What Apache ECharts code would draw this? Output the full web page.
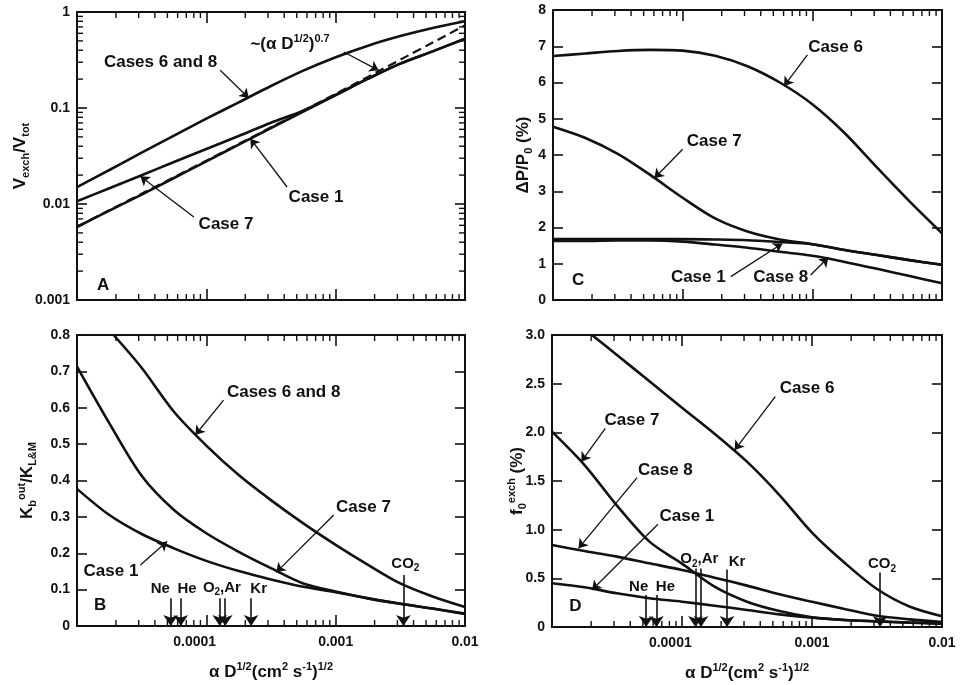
<!DOCTYPE html>
<html><head><meta charset="utf-8">
<script src="https://cdn.jsdelivr.net/npm/echarts@6/dist/echarts.min.js"></script>
<style>html,body{margin:0;padding:0;background:#fff;}#c{width:963px;height:685px;}</style>
</head><body><div id="c"></div>
<script>
// ---------------- DATA ----------------
const X_MIN = 1e-5, X_MAX = 1e-2;
const xs = [1e-5, 1.78e-5, 3.16e-5, 5.62e-5, 1e-4, 1.78e-4, 3.16e-4, 5.62e-4, 1e-3, 1.78e-3, 3.16e-3, 5.62e-3, 1e-2];
const xLabelVals = [1e-4, 1e-3, 1e-2];
const xLabelText = ['{l|0.0001}{gap|000}', '{l|0.001}', '{l|0.01}'];
const xMinorTicks = [2e-5,3e-5,4e-5,5e-5,6e-5,7e-5,8e-5,9e-5,2e-4,3e-4,4e-4,5e-4,6e-4,7e-4,8e-4,9e-4,2e-3,3e-3,4e-3,5e-3,6e-3,7e-3,8e-3,9e-3];

// Panel A: Vexch/Vtot (log)
const aTickVals = [0.001, 0.01, 0.1, 1];
const aTickText = ['0.001', '0.01', '0.1', '1'];
const aMinorTicks = [0.002,0.003,0.004,0.005,0.006,0.007,0.008,0.009,0.02,0.03,0.04,0.05,0.06,0.07,0.08,0.09,0.2,0.3,0.4,0.5,0.6,0.7,0.8,0.9];
const aCases68 = [0.0150, 0.0226, 0.0343, 0.0515, 0.0774, 0.1146, 0.1695, 0.245, 0.338, 0.446, 0.561, 0.682, 0.800];
const aCase7   = [0.0107, 0.0146, 0.0199, 0.0274, 0.0374, 0.0511, 0.0703, 0.0938, 0.1366, 0.202, 0.290, 0.389, 0.527];
const aCase1   = [0.00576, 0.00853, 0.0125, 0.01866, 0.0278, 0.0415, 0.0619, 0.0920, 0.1366, 0.202, 0.290, 0.389, 0.527];
const aPowerX  = [1e-5, 1e-4, 1e-3, 1e-2];
const aPower   = [0.0058, 0.0283, 0.1405, 0.726];

// Panel B: Kb_out/K_L&M
const bTickText = ['0', '0.1', '0.2', '0.3', '0.4', '0.5', '0.6', '0.7', '0.8'];
const bCases68Start = [1.92e-5, 0.80];
const bCases68 = [null, null, 0.710, 0.589, 0.496, 0.415, 0.346, 0.282, 0.223, 0.168, 0.117, 0.081, 0.052];
const bCase7   = [0.713, 0.557, 0.413, 0.319, 0.255, 0.204, 0.159, 0.117, 0.095, 0.076, 0.061, 0.048, 0.034];
const bCase1   = [0.377, 0.305, 0.253, 0.2135, 0.179, 0.151, 0.128, 0.108, 0.093, 0.076, 0.061, 0.048, 0.033];

// Panel C: dP/P0 (%)
const cTickText = ['0', '1', '2', '3', '4', '5', '6', '7', '8'];
const cCase6 = [6.73, 6.80, 6.87, 6.90, 6.88, 6.74, 6.45, 6.00, 5.40, 4.60, 3.65, 2.72, 1.84];
const cCase7 = [4.78, 4.47, 4.03, 3.45, 2.82, 2.25, 1.89, 1.67, 1.54, 1.38, 1.24, 1.10, 0.97];
const cCase1 = [1.68, 1.68, 1.68, 1.68, 1.68, 1.67, 1.65, 1.60, 1.54, 1.38, 1.24, 1.10, 0.97];
const cCase8 = [1.63, 1.63, 1.64, 1.64, 1.61, 1.53, 1.44, 1.33, 1.22, 1.05, 0.86, 0.66, 0.46];

// Panel D: f0_exch (%)
const dTickText = ['0', '0.5', '1.0', '1.5', '2.0', '2.5', '3.0'];
const dCase6Start = [2.03e-5, 3.0];
const dCase6 = [null, null, 2.795, 2.524, 2.253, 1.986, 1.699, 1.356, 0.97, 0.66, 0.39, 0.21, 0.11];
const dCase7 = [2.007, 1.664, 1.247, 0.877, 0.651, 0.414, 0.26, 0.164, 0.10, 0.072, 0.058, 0.045, 0.035];
const dCase8 = [0.842, 0.781, 0.723, 0.654, 0.586, 0.507, 0.425, 0.336, 0.26, 0.185, 0.115, 0.078, 0.052];
const dCase1 = [0.449, 0.408, 0.346, 0.295, 0.26, 0.219, 0.175, 0.130, 0.096, 0.072, 0.058, 0.045, 0.035];

// Gas markers
const gasLabels = ['{n|Ne}', '{n|He}', '{n|O}{sub|2}{n|,Ar}', '{n|Kr}', '{n|CO}{sub|2}'];
const gasX = [5.3e-5, 6.35e-5, 1.27e-4, 1.4e-4, 2.22e-4, 3.34e-3];
const gasTopB = [0.076, 0.076, 0.076, 0.076, 0.076, 0.14];
const gasTopD = [0.33, 0.33, 0.60, 0.60, 0.59, 0.56];
const gasLabelPosB = [[4.41e-5, 0.102], [7.09e-5, 0.102], [1.32e-4, 0.106], [2.54e-4, 0.102], [3.46e-3, 0.172]];
const gasLabelPosD = [[4.64e-5, 0.414], [7.45e-5, 0.414], [1.36e-4, 0.70], [2.65e-4, 0.67], [3.45e-3, 0.644]];

// Annotations: [text, x, y]; arrows: [x1, y1, x2, y2]
const annTextA = [['{n|Cases 6 and 8}', 4.43e-5, 0.301], ['{n|~(α D}{sup|1/2}{n|)}{sup|0.7}', 4.44e-4, 0.464], ['{n|Case 1}', 7.05e-4, 0.0118], ['{n|Case 7}', 1.42e-4, 0.0062], ['{n|A}', 1.59e-5, 0.00143]];
const annArrowA = [[1.28e-4, 0.247, 2.13e-4, 0.127], [1.156e-3, 0.383, 2.15e-3, 0.247], [4.21e-4, 0.01503, 2.19e-4, 0.0479], [8.0e-5, 0.00732, 3.09e-5, 0.01944]];
const annTextB = [['{n|Cases 6 and 8}', 3.96e-4, 0.642], ['{n|Case 7}', 1.64e-3, 0.325], ['{n|Case 1}', 1.83e-5, 0.151], ['{n|B}', 1.51e-5, 0.056]];
const annArrowB = [[1.36e-4, 0.621, 8.22e-5, 0.525], [9.66e-4, 0.305, 3.47e-4, 0.1475], [3.09e-5, 0.168, 4.97e-5, 0.232]];
const annTextC = [['{n|Case 6}', 1.51e-3, 6.96], ['{n|Case 7}', 1.75e-4, 4.39], ['{n|Case 1}', 1.32e-4, 0.625], ['{n|Case 8}', 5.7e-4, 0.625], ['{n|C}', 1.56e-5, 0.55]];
const annArrowC = [[9.16e-4, 6.76, 6.05e-4, 5.90], [1.0e-4, 4.16, 6.05e-5, 3.36], [2.35e-4, 0.644, 5.87e-4, 1.56], [9.7e-4, 0.69, 1.33e-3, 1.17]];
const annTextD = [['{n|Case 6}', 9.16e-4, 2.452], ['{n|Case 7}', 4.12e-5, 2.127], ['{n|Case 8}', 7.45e-5, 1.613], ['{n|Case 1}', 1.09e-4, 1.134], ['{n|D}', 1.51e-5, 0.209]];
const annArrowD = [[5.22e-4, 2.366, 2.54e-4, 1.818], [2.57e-5, 2.041, 1.68e-5, 1.699], [4.51e-5, 1.534, 1.60e-5, 0.808], [6.53e-5, 1.055, 2.03e-5, 0.38]];

// ---------------- STYLE / BUILD ----------------
const INK = '#111';
const FONT = '"Liberation Sans", Arial, Helvetica, sans-serif';
function richSet(size, lh) {
  const s = Math.round(size * 0.66);
  return {
    n:   {fontSize: size, fontWeight: 'bold', fontFamily: FONT, color: INK, lineHeight: lh, verticalAlign: 'middle'},
    sup: {fontSize: s, fontWeight: 'bold', fontFamily: FONT, color: INK, lineHeight: s, verticalAlign: 'top'},
    sub: {fontSize: s, fontWeight: 'bold', fontFamily: FONT, color: INK, lineHeight: s, verticalAlign: 'bottom'}
  };
}
const R17 = richSet(17, 22), R15 = richSet(15, 20);
const xLabelRich = {
  l:   {fontSize: 14, fontWeight: 'bold', fontFamily: FONT, color: INK},
  gap: {fontSize: 14, fontWeight: 'bold', fontFamily: FONT, color: 'rgba(0,0,0,0)'}
};

const grids = [
  {left: 77, top: 12, width: 388, height: 288},
  {left: 77, top: 335, width: 388, height: 291},
  {left: 553, top: 10, width: 389, height: 290},
  {left: 552, top: 335, width: 390, height: 292}
].map(g => Object.assign({outerBoundsMode: 'none', containLabel: false}, g));

function matchLog(v, vals, texts) {
  const i = vals.findIndex(t => Math.abs(Math.log10(v / t)) < 0.01);
  return i < 0 ? '' : texts[i];
}
const tickLabel = {show: true, color: INK, fontSize: 14, fontWeight: 'bold', fontFamily: FONT, margin: 7};
const axLine = {show: true, onZero: false, lineStyle: {color: INK, width: 2}};

function xAxis(gi, pos, showLabels, name) {
  return {
    type: 'log', logBase: 10, gridIndex: gi, position: pos, min: X_MIN, max: X_MAX,
    axisLine: axLine,
    axisTick: {show: true, inside: true, length: 11, lineStyle: {color: INK, width: 1.6}},
    axisLabel: Object.assign({}, tickLabel, {show: showLabels, margin: 9, rich: xLabelRich, formatter: v => matchLog(v, xLabelVals, xLabelText)}),
    splitLine: {show: false}, minorTick: {show: false},
    name: name || '', nameLocation: 'middle', nameGap: 35,
    nameTextStyle: {fontSize: 17, fontWeight: 'bold', fontFamily: FONT, color: INK, rich: R17}
  };
}
function yAxis(gi, pos, cfg, showLabels, name, gap, noMove) {
  const ax = Object.assign({
    gridIndex: gi, position: pos,
    axisLine: axLine,
    axisTick: {show: true, inside: true, length: 10, lineStyle: {color: INK, width: 1.6}},
    splitLine: {show: false},
    name: name || '', nameLocation: 'middle', nameGap: gap || 40,
    nameTextStyle: {fontSize: 17, fontWeight: 'bold', fontFamily: FONT, color: INK, rich: R17}
  }, cfg, {axisLabel: Object.assign({}, tickLabel, {show: showLabels, formatter: cfg.fmt})});
  if (noMove) ax.nameMoveOverlap = false;
  return ax;
}
const yCfg = [
  {type: 'log', logBase: 10, min: 0.001, max: 1, fmt: v => matchLog(v, aTickVals, aTickText)},
  {type: 'value', min: 0, max: 0.8, interval: 0.1, fmt: v => bTickText[Math.round(v / 0.1)]},
  {type: 'value', min: 0, max: 8, interval: 1, fmt: v => cTickText[Math.round(v)]},
  {type: 'value', min: 0, max: 3, interval: 0.5, fmt: v => dTickText[Math.round(v / 0.5)]}
];
const yNames = ['{n|V}{sub|exch}{n|/V}{sub|tot}', '{n|K}{sub|b}{sup|out}{n|/K}{sub|L&M}', '{n|ΔP/P}{sub|0}{n| (%)}', '{n|f}{sub|0}{sup|exch}{n| (%)}'];
const yGaps = [42, 39, 18, 24];
const yNoMove = [false, false, false, true];
const xName = '{n|α D}{sup|1/2}{n|(cm}{sup|2}{n| s}{sup|-1}{n|)}{sup|1/2}';

const xAxes = [], yAxes = [];
for (let g = 0; g < 4; g++) xAxes.push(xAxis(g, 'bottom', g === 1 || g === 3, (g === 1 || g === 3) ? xName : ''));
for (let g = 0; g < 4; g++) xAxes.push(xAxis(g, 'top', false, ''));
for (let g = 0; g < 4; g++) yAxes.push(yAxis(g, 'left', yCfg[g], true, yNames[g], yGaps[g], yNoMove[g]));
for (let g = 0; g < 4; g++) yAxes.push(yAxis(g, 'right', yCfg[g], false, '', 0));

function pairs(vals, start) {
  const out = start ? [start.slice()] : [];
  vals.forEach((v, i) => { if (v != null) out.push([xs[i], v]); });
  return out;
}
function curve(gi, data, dashed) {
  return {
    type: 'line', xAxisIndex: gi, yAxisIndex: gi, data: data, symbol: 'none', showSymbol: false,
    smooth: 0.3, silent: true, clip: true, z: 4,
    lineStyle: {color: INK, width: dashed ? 2.2 : 2.6, type: dashed ? [9, 5] : 'solid'}
  };
}
const yRef = [0.01, 0.4, 4, 1.5];
function xMinorSeries(gi) {
  return {
    type: 'custom', xAxisIndex: gi, yAxisIndex: gi, silent: true, z: 3,
    data: xMinorTicks.map(v => [v, yRef[gi]]),
    renderItem(params, api) {
      const cs = params.coordSys;
      const p = api.coord([api.value(0), api.value(1)]);
      const st = {stroke: INK, lineWidth: 1.4};
      const yb = cs.y + cs.height;
      return {type: 'group', children: [
        {type: 'line', shape: {x1: p[0], y1: yb, x2: p[0], y2: yb - 6}, style: st},
        {type: 'line', shape: {x1: p[0], y1: cs.y, x2: p[0], y2: cs.y + 6}, style: st}
      ]};
    }
  };
}
function yMinorSeriesA() {
  return {
    type: 'custom', xAxisIndex: 0, yAxisIndex: 0, silent: true, z: 3,
    data: aMinorTicks.map(v => [1e-4, v]),
    renderItem(params, api) {
      const cs = params.coordSys;
      const p = api.coord([api.value(0), api.value(1)]);
      const st = {stroke: INK, lineWidth: 1.4};
      const xr = cs.x + cs.width;
      return {type: 'group', children: [
        {type: 'line', shape: {x1: cs.x, y1: p[1], x2: cs.x + 6, y2: p[1]}, style: st},
        {type: 'line', shape: {x1: xr, y1: p[1], x2: xr - 6, y2: p[1]}, style: st}
      ]};
    }
  };
}
function annSeries(gi, texts, arrows, opts) {
  opts = opts || {};
  const rich = opts.rich || R17;
  const fs = opts.fontSize || 17;
  return {
    type: 'line', xAxisIndex: gi, yAxisIndex: gi, data: [], silent: true, z: 6,
    itemStyle: {color: INK},
    markLine: {
      silent: true, animation: false, symbol: ['none', 'arrow'], symbolSize: opts.head || 9,
      label: {show: false}, emphasis: {disabled: true},
      itemStyle: {color: INK},
      lineStyle: {color: INK, width: opts.lw || 1.3, type: 'solid'},
      data: arrows.map(a => [{coord: [a[0], a[1]]}, {coord: [a[2], a[3]]}])
    },
    markPoint: {
      silent: true, animation: false, symbol: 'rect', symbolSize: 1,
      itemStyle: {color: 'rgba(0,0,0,0)'},
      label: {show: true, position: 'inside', color: INK, fontSize: fs, fontWeight: 'bold', fontFamily: FONT, rich: rich, formatter: p => p.name},
      emphasis: {disabled: true},
      data: texts.map(t => ({name: t[0], coord: [t[1], t[2]], value: 0}))
    }
  };
}
function gasSeries(gi, tops, labelPos) {
  const arrows = gasX.map((x, i) => [x, tops[i], x, 0.0001]);
  const texts = gasLabels.map((t, i) => [t, labelPos[i][0], labelPos[i][1]]);
  return annSeries(gi, texts, arrows, {rich: R15, fontSize: 15, head: 11, lw: 1.6});
}

const series = [
  curve(0, pairs(aCases68)), curve(0, pairs(aCase7)), curve(0, pairs(aCase1)),
  curve(0, aPowerX.map((x, i) => [x, aPower[i]]), true),
  curve(1, pairs(bCases68, bCases68Start)), curve(1, pairs(bCase7)), curve(1, pairs(bCase1)),
  curve(2, pairs(cCase6)), curve(2, pairs(cCase7)), curve(2, pairs(cCase1)), curve(2, pairs(cCase8)),
  curve(3, pairs(dCase6, dCase6Start)), curve(3, pairs(dCase7)), curve(3, pairs(dCase8)), curve(3, pairs(dCase1)),
  xMinorSeries(0), xMinorSeries(1), xMinorSeries(2), xMinorSeries(3), yMinorSeriesA(),
  annSeries(0, annTextA, annArrowA), annSeries(1, annTextB, annArrowB),
  annSeries(2, annTextC, annArrowC), annSeries(3, annTextD, annArrowD),
  gasSeries(1, gasTopB, gasLabelPosB), gasSeries(3, gasTopD, gasLabelPosD)
];

const chart = echarts.init(document.getElementById('c'), null, {renderer: 'canvas'});
chart.setOption({
  animation: false, backgroundColor: '#fff',
  textStyle: {fontFamily: FONT, color: INK},
  grid: grids, xAxis: xAxes, yAxis: yAxes, series: series
});
</script></body></html>
